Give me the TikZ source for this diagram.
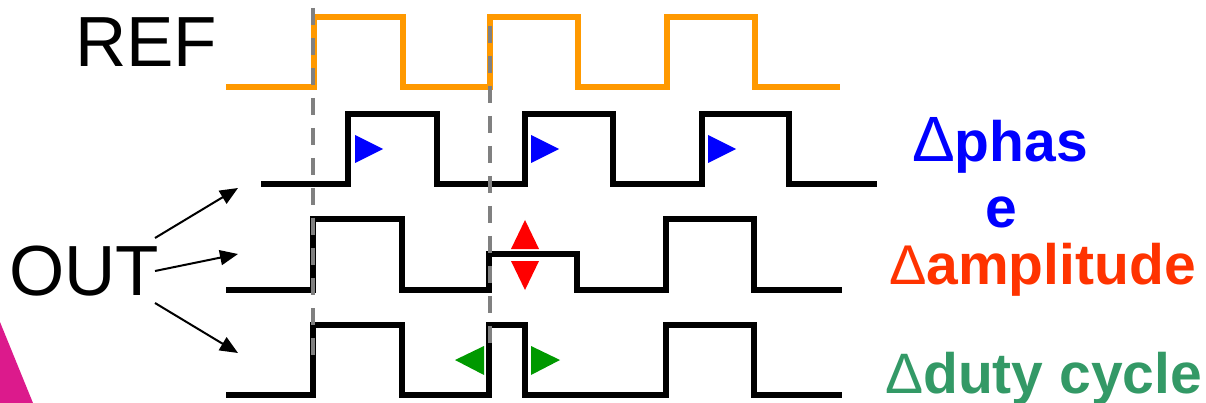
\documentclass[tikz,border=0pt]{standalone}
\usepackage{fontspec}
\setmainfont{Liberation Sans}
\usetikzlibrary{arrows.meta}
\definecolor{refor}{HTML}{FF9900}
\definecolor{dashgray}{HTML}{808080}
\definecolor{phblue}{HTML}{0000FF}
\definecolor{ampred}{HTML}{FF3300}
\definecolor{dutygreen}{HTML}{339966}
\definecolor{trired}{HTML}{FF0000}
\definecolor{trigreen}{HTML}{009900}
\definecolor{magtri}{RGB}{220,26,140}
\tikzset{
  wave/.style={line width=5.8pt, line join=miter},
  refwave/.style={wave, draw=refor},
  outwave/.style={wave, draw=black},
  guide/.style={draw=dashgray, line width=4pt, dash pattern=on 17pt off 13pt},
  outarrow/.style={line width=2pt, -{Triangle[length=18pt,width=15pt]}},
  bigtext/.style={inner sep=0pt, font=\fontsize{71}{84}\selectfont},
  lbl/.style={inner sep=0pt, font=\fontsize{57}{66}\selectfont\bfseries}
}
\begin{document}
\begin{tikzpicture}[x=1pt,y=-1pt]
\useasboundingbox (0,0) rectangle (1206,403);

% magenta corner
\fill[magtri] (0,322) -- (33,403) -- (0,403) -- cycle;

% labels
\node[bigtext, anchor=base west] (ref) at (75,67) {REF};
\node[bigtext, anchor=base west] (out) at (9,295) {OUT};

% waveforms
\draw[refwave] (226,87) -- (314,87) -- (314,17) -- (403,17) -- (403,87) -- (490,87) -- (490,17) -- (578,17) -- (578,87) -- (667,87) -- (667,17) -- (755,17) -- (755,87) -- (840,87);
\draw[outwave] (261,184) -- (348,184) -- (348,114) -- (437,114) -- (437,184) -- (525,184) -- (525,114) -- (613,114) -- (613,184) -- (702,184) -- (702,114) -- (789,114) -- (789,184) -- (877,184);
\draw[outwave] (226,290) -- (313,290) -- (313,219) -- (402,219) -- (402,290) -- (489,290) -- (489,254) -- (577,254) -- (577,290) -- (666,290) -- (666,219) -- (754,219) -- (754,290) -- (842,290);
\draw[outwave] (226,395) -- (313,395) -- (313,325) -- (402,325) -- (402,395) -- (489,395) -- (489,325) -- (525,325) -- (525,395) -- (666,395) -- (666,325) -- (754,325) -- (754,395) -- (842,395);

% dashed guides
\draw[guide] (313,8) -- (313,363);
\draw[guide] (490,26) -- (490,350);

% markers
\fill[phblue] (355,135) -- (383,149) -- (355,163) -- cycle;
\fill[phblue] (531,135) -- (559,149) -- (531,163) -- cycle;
\fill[phblue] (708,135) -- (736,149) -- (708,163) -- cycle;
\fill[trired] (511,249) -- (539,249) -- (525,220) -- cycle;
\fill[trired] (511,261) -- (539,261) -- (525,290) -- cycle;
\fill[trigreen] (484,346) -- (484,375) -- (455,360) -- cycle;
\fill[trigreen] (531,346) -- (531,375) -- (560,360) -- cycle;

% arrows from OUT
\coordinate (s1) at (155,238);
\coordinate (s2) at (155,271);
\coordinate (s3) at (155,303);
\coordinate (e1) at (238,188);
\coordinate (e2) at (238,254);
\coordinate (e3) at (238,353);
\draw[outarrow] (s1) -- (e1);
\draw[outarrow] (s2) -- (e2);
\draw[outarrow] (s3) -- (e3);

% right labels
\node[lbl, text=phblue, anchor=base] (ph1) at (1000,162) {{\fontsize{64}{70}\selectfont\mdseries Δ}phas};
\node[lbl, text=phblue, anchor=base] (ph2) at (1001,228) {e};
\node[lbl, text=ampred, anchor=base west] (amp) at (889,284) {{\fontsize{56}{60}\selectfont\mdseries Δ}amplitude};
\node[lbl, text=dutygreen, anchor=base west] (duty) at (885,393) {{\fontsize{57}{60}\selectfont\mdseries Δ}duty cycle};
\end{tikzpicture}
\end{document}
